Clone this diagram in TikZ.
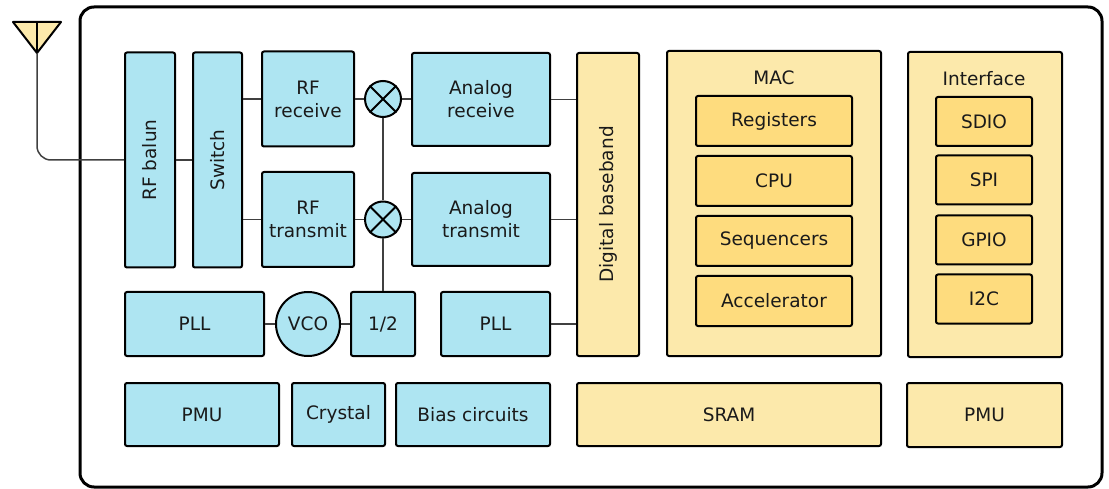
\documentclass[tikz,border=0pt]{standalone}
\usepackage{fontspec}
\setmainfont{DejaVu Sans}
\definecolor{rfblue}{HTML}{AEE5F2}
\definecolor{digpale}{HTML}{FCE9AB}
\definecolor{diggold}{HTML}{FEDC7E}
\definecolor{wiregrey}{HTML}{404040}
\definecolor{labelgrey}{HTML}{1A1A1A}
\tikzset{
  rfblock/.style={draw=black, line width=2pt, fill=rfblue, rounded corners=2pt,
                  inner sep=0pt, text=labelgrey, align=center},
  digblock/.style={rfblock, fill=digpale},
  subblock/.style={rfblock, fill=diggold},
  mixerdisc/.style={circle, draw=black, line width=2pt, fill=rfblue,
                    minimum size=36, inner sep=0pt},
  wire/.style={draw=wiregrey, line width=1.5pt},
}
\newcommand{\mixer}[2]{
  % A mixer: disc with a cross
  \node [mixerdisc] (#1) at (#2) {};
  \draw [line width=2pt] (#1.north east) -- (#1.south west)
                         (#1.north west) -- (#1.south east);
}

\begin{document}
\begin{tikzpicture}[x=1pt,y=-1pt,font=\fontsize{18.5}{23}\selectfont]
  \useasboundingbox (0,0) rectangle (1109,489);

  % The chip outline
  \draw [line width=3pt, rounded corners=14pt] (80,7) rectangle (1102,487);

  % Antenna
  \filldraw [fill=digpale, draw=black, line width=2pt, line join=round]
            (13,22) -- (61,22) -- (37,53) -- cycle;
  \draw [line width=1.5pt] (37,22) -- (37,53);
  \coordinate (feed) at (37,53);

  % Radio front end
  \node [rfblock, minimum width=50, minimum height=215] (balun) at (150,160) {\rotatebox{90}{RF balun}};
  \node [rfblock, minimum width=49, minimum height=215] (switch) at (217.5,160) {\rotatebox{90}{Switch}};
  \node [rfblock, minimum width=92, minimum height=95] (rfrx) at (308,99) {RF\\receive};
  \node [rfblock, minimum width=92, minimum height=95] (rftx) at (308,219.5) {RF\\transmit};
  \mixer{mixrx}{383,99}
  \mixer{mixtx}{383,219.5}
  \node [rfblock, minimum width=138, minimum height=93] (anrx) at (481,99.5) {Analog\\receive};
  \node [rfblock, minimum width=138, minimum height=93] (antx) at (481,219.5) {Analog\\transmit};

  % Clocking
  \node [rfblock, minimum width=139, minimum height=64] (pllrf) at (194.5,324) {PLL};
  \node [rfblock, circle, minimum size=64] (vco) at (308,324) {VCO};
  \node [rfblock, minimum width=64, minimum height=64] (half) at (383,324) {1/2};
  \node [rfblock, minimum width=109, minimum height=64] (plldig) at (495.5,324) {PLL};

  % Support blocks
  \node [rfblock, minimum width=154, minimum height=63] (pmurf) at (202,414.5) {PMU};
  \node [rfblock, minimum width=93, minimum height=63] (crystal) at (338.5,414.5) {Crystal};
  \node [rfblock, minimum width=154, minimum height=63] (bias) at (473,414.5) {Bias circuits};

  % Digital side
  \node [digblock, minimum width=62, minimum height=303] (baseband) at (608,204.5) {\rotatebox{90}{Digital baseband}};
  \node [digblock, minimum width=214, minimum height=305] (mac) at (774,203.5) {};
  \node [text=labelgrey] (mactitle) at (774,78) {MAC};
  \node [subblock, minimum width=156, minimum height=50] (registers) at (774,121) {Registers};
  \node [subblock, minimum width=156, minimum height=50] (cpu) at (774,181) {CPU};
  \node [subblock, minimum width=156, minimum height=50] (sequencers) at (774,241) {Sequencers};
  \node [subblock, minimum width=156, minimum height=50] (accelerator) at (774,301) {Accelerator};
  \node [digblock, minimum width=154, minimum height=305] (iface) at (985,204.5) {};
  \node [text=labelgrey] (ifacetitle) at (984,79) {Interface};
  \node [subblock, minimum width=96, minimum height=49] (sdio) at (984,121.5) {SDIO};
  \node [subblock, minimum width=96, minimum height=49] (spi) at (984,180) {SPI};
  \node [subblock, minimum width=96, minimum height=49] (gpio) at (984,240) {GPIO};
  \node [subblock, minimum width=96, minimum height=49] (itwoc) at (984,299) {I2C};
  \node [digblock, minimum width=304, minimum height=63] (sram) at (729,414.5) {SRAM};
  \node [digblock, minimum width=155, minimum height=64] (pmudig) at (984.5,415) {PMU};

  % Signal paths
  \draw [wire, rounded corners=14pt] (feed) |- (balun.west);
  \draw [wire] (balun.east) -- (switch.west);
  \draw [wire] (rfrx.west) -- (rfrx.west -| switch.east);
  \draw [wire] (rftx.west) -- (rftx.west -| switch.east);
  \draw [wire] (rfrx.east) -- (mixrx.west) (mixrx.east) -- (mixrx.east -| anrx.west);
  \draw [wire] (rftx.east) -- (mixtx.west) (mixtx.east) -- (mixtx.east -| antx.west);
  \draw [wire] (mixrx.south) -- (mixtx.north) (mixtx.south) -- (half.north);
  \draw [wire] (pllrf.east) -- (vco.west) (vco.east) -- (half.west);
  \draw [wire] (anrx.east) -- (anrx.east -| baseband.west);
  \draw [wire] (antx.east) -- (antx.east -| baseband.west);
  \draw [wire] (plldig.east) -- (plldig.east -| baseband.west);
\end{tikzpicture}
\end{document}
